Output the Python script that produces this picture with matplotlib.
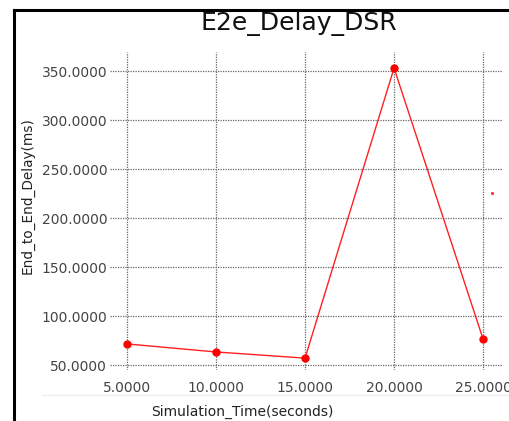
import matplotlib
matplotlib.use("Agg")
import matplotlib.pyplot as plt
from matplotlib.lines import Line2D

sim_time = [5, 10, 15, 20, 25]
delay_ms = [71.5, 63.3, 57.0, 353.0, 76.5]
x_ticks = [5, 10, 15, 20, 25]
y_ticks = [50, 100, 150, 200, 250, 300, 350]
stray_x = [25.5]
stray_y = [225.5]

W, H = 509, 421
fig = plt.figure(figsize=(W / 100, H / 100), dpi=100)
fig.patch.set_facecolor("white")

# axes area in pixels: x 110..503, y 52..370
ax = fig.add_axes([110 / W, (H - 370) / H, 393 / W, 318 / H])
ax.set_xlim(4.045, 26.12)
ax.set_ylim(44.9, 369.4)
for s in ax.spines.values():
    s.set_visible(False)

ax.set_xticks(x_ticks)
ax.set_yticks(y_ticks)
ax.set_xticklabels([f"{v:.4f}" for v in x_ticks])
ax.set_yticklabels([f"{v:.4f}" for v in y_ticks])
ax.tick_params(axis="both", length=0, labelsize=10, colors="#444444")
ax.tick_params(axis="x", pad=8)
ax.tick_params(axis="y", pad=2)
ax.grid(True, color="#666666", linestyle=(0, (1, 1)), linewidth=0.9)

ax.plot(sim_time, delay_ms, color="#ff2020", linewidth=1.0, marker="o",
        markersize=5, markerfacecolor="#ff0000", markeredgecolor="#ff0000",
        clip_on=False, zorder=3)
ax.plot(stray_x, stray_y, linestyle="none", marker="s", markersize=1.2,
        color="#ff4040", clip_on=False)

# frame border (left and top)
fig.add_artist(Line2D([13.5 / W, 13.5 / W], [0, (H - 9.5) / H],
                      transform=fig.transFigure, color="black", linewidth=2.2))
fig.add_artist(Line2D([13.5 / W, 1], [(H - 9.5) / H, (H - 9.5) / H],
                      transform=fig.transFigure, color="black", linewidth=2.2))
# faint separator line below tick labels
fig.add_artist(Line2D([42 / W, 1], [(H - 395) / H, (H - 395) / H],
                      transform=fig.transFigure, color="#eeeeee", linewidth=1))

fig.text(299 / W, 1 - 24 / H, "E2e_Delay_DSR", fontsize=18, ha="center",
         va="center", color="#111111")
fig.text(242 / W, 1 - 412 / H, "Simulation_Time(seconds)", fontsize=10,
         ha="center", va="center", color="#222222")
fig.text(28 / W, 1 - 196 / H, "End_to_End_Delay(ms)", fontsize=9.8,
         ha="center", va="center", rotation=90, color="#222222")

fig.savefig("out.png", dpi=100, facecolor="white")
